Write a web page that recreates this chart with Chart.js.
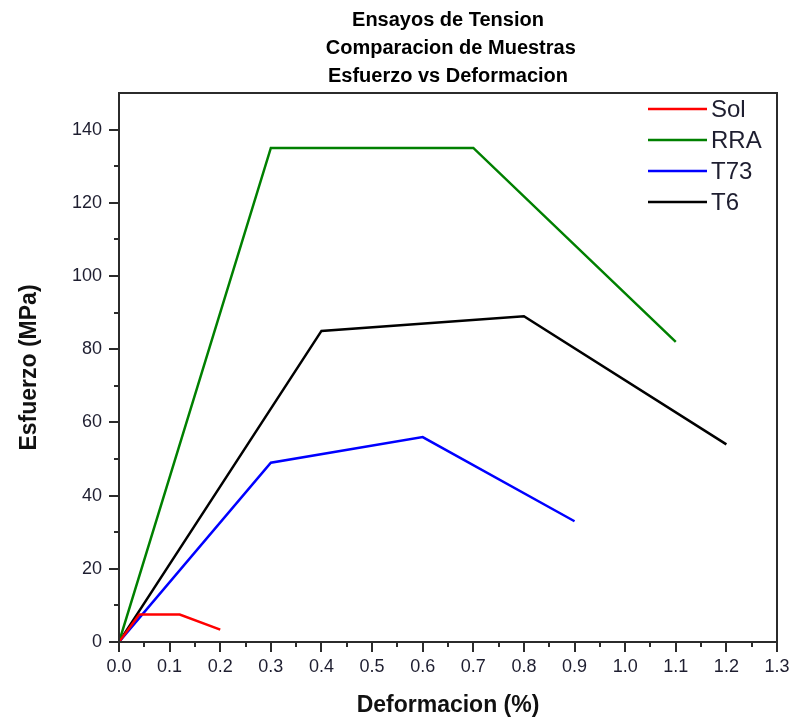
<!DOCTYPE html>
<html>
<head>
<meta charset="utf-8">
<script src="https://cdn.jsdelivr.net/npm/chart.js@4.4.1/dist/chart.umd.min.js"></script>
<style>
  body { margin: 0; background: #fff; }
  #wrap { width: 790px; height: 719px; }
</style>
</head>
<body>
<div id="wrap"><canvas id="chart"></canvas></div>
<script>
// valores
const seriesNames = ["Sol", "RRA", "T73", "T6"];
const seriesColors = ["#ff0000", "#008000", "#0000ff", "#000000"];

const solX = [0, 0.04, 0.12, 0.2];
const solY = [0, 7.5, 7.5, 3.4];
const rraX = [0, 0.3, 0.7, 1.1];
const rraY = [0, 135, 135, 82];
const t73X = [0, 0.3, 0.6, 0.9];
const t73Y = [0, 49, 56, 33];
const t6X = [0, 0.4, 0.8, 1.2];
const t6Y = [0, 85, 89, 54];

const titleLines = ["Ensayos de Tension", " Comparacion de Muestras", "Esfuerzo vs Deformacion"];

function pts(xs, ys) {
  return xs.map((x, i) => ({ x: x, y: ys[i] }));
}

const allX = [solX, rraX, t73X, t6X];
const allY = [solY, rraY, t73Y, t6Y];

const datasets = seriesNames.map((name, i) => ({
  label: name,
  data: pts(allX[i], allY[i]),
  borderColor: seriesColors[i],
  backgroundColor: seriesColors[i],
  borderWidth: 2.5,
  pointRadius: 0,
  tension: 0,
  showLine: true,
}));

const axisColor = "#2b2b2b";
const tickColor = "#1e1e30";

// marco, ticks menores y leyenda dentro del area
const extras = {
  id: "extras",
  afterDraw(chart) {
    const ctx = chart.ctx;
    const a = chart.chartArea;
    const xs = chart.scales.x;
    const ys = chart.scales.y;
    ctx.save();
    ctx.strokeStyle = axisColor;
    ctx.lineWidth = 2;
    ctx.strokeRect(a.left, a.top, a.right - a.left, a.bottom - a.top);

    ctx.beginPath();
    for (let v = 10; v < 150; v += 20) {
      const py = Math.round(ys.getPixelForValue(v));
      ctx.moveTo(a.left - 5, py);
      ctx.lineTo(a.left, py);
    }
    for (let k = 0; k < 13; k++) {
      const px = Math.round(xs.getPixelForValue(k / 10 + 0.05));
      ctx.moveTo(px, a.bottom);
      ctx.lineTo(px, a.bottom + 5);
    }
    ctx.stroke();

    ctx.font = "24px 'Liberation Sans', Arial, sans-serif";
    ctx.textBaseline = "middle";
    ctx.textAlign = "left";
    chart.data.datasets.forEach((ds, i) => {
      const y = a.top + 16 + i * 31;
      ctx.strokeStyle = ds.borderColor;
      ctx.lineWidth = 2.5;
      ctx.beginPath();
      ctx.moveTo(a.right - 129, y);
      ctx.lineTo(a.right - 70, y);
      ctx.stroke();
      ctx.fillStyle = tickColor;
      ctx.fillText(ds.label, a.right - 66, y + 1);
    });
    ctx.restore();
  },
};

new Chart(document.getElementById("chart"), {
  type: "scatter",
  data: { datasets: datasets },
  plugins: [extras],
  options: {
    responsive: true,
    maintainAspectRatio: false,
    animation: false,
    layout: { padding: { top: 5, right: 13, bottom: 0, left: 0 } },
    plugins: {
      legend: { display: false },
      tooltip: { enabled: false },
      title: {
        display: true,
        fullSize: false,
        text: titleLines,
        color: "#000",
        font: { family: "'Liberation Sans', Arial, sans-serif", size: 20, weight: "bold", lineHeight: "28px" },
        padding: { top: 1, bottom: 3 },
      },
    },
    scales: {
      x: {
        type: "linear",
        min: 0,
        max: 1.3,
        afterFit(scale) {
          scale.height = 77;
          scale.paddingLeft = 0;
          scale.paddingRight = 0;
        },
        ticks: {
          stepSize: 0.1,
          includeBounds: false,
          padding: 4,
          color: tickColor,
          font: { family: "'Liberation Sans', Arial, sans-serif", size: 18 },
          callback: (v) => Number(v).toFixed(1),
          maxRotation: 0,
          autoSkip: false,
        },
        grid: { drawOnChartArea: false, tickLength: 10, color: axisColor, lineWidth: 2 },
        border: { color: axisColor, width: 2 },
        title: {
          display: true,
          text: "Deformacion (%)",
          color: "#111",
          font: { family: "'Liberation Sans', Arial, sans-serif", size: 23, weight: "bold" },
          padding: { top: 4, bottom: 0 },
        },
      },
      y: {
        type: "linear",
        min: 0,
        max: 150,
        afterFit(scale) {
          scale.width = 119;
          scale.paddingTop = 0;
          scale.paddingBottom = 0;
        },
        ticks: {
          stepSize: 20,
          includeBounds: false,
          padding: 7,
          color: tickColor,
          font: { family: "'Liberation Sans', Arial, sans-serif", size: 18 },
        },
        grid: { drawOnChartArea: false, tickLength: 10, color: axisColor, lineWidth: 2 },
        border: { color: axisColor, width: 2 },
        title: {
          display: true,
          text: "Esfuerzo (MPa)",
          color: "#111",
          font: { family: "'Liberation Sans', Arial, sans-serif", size: 23, weight: "bold" },
          padding: { top: 16, bottom: 0 },
        },
      },
    },
  },
});
</script>
</body>
</html>
